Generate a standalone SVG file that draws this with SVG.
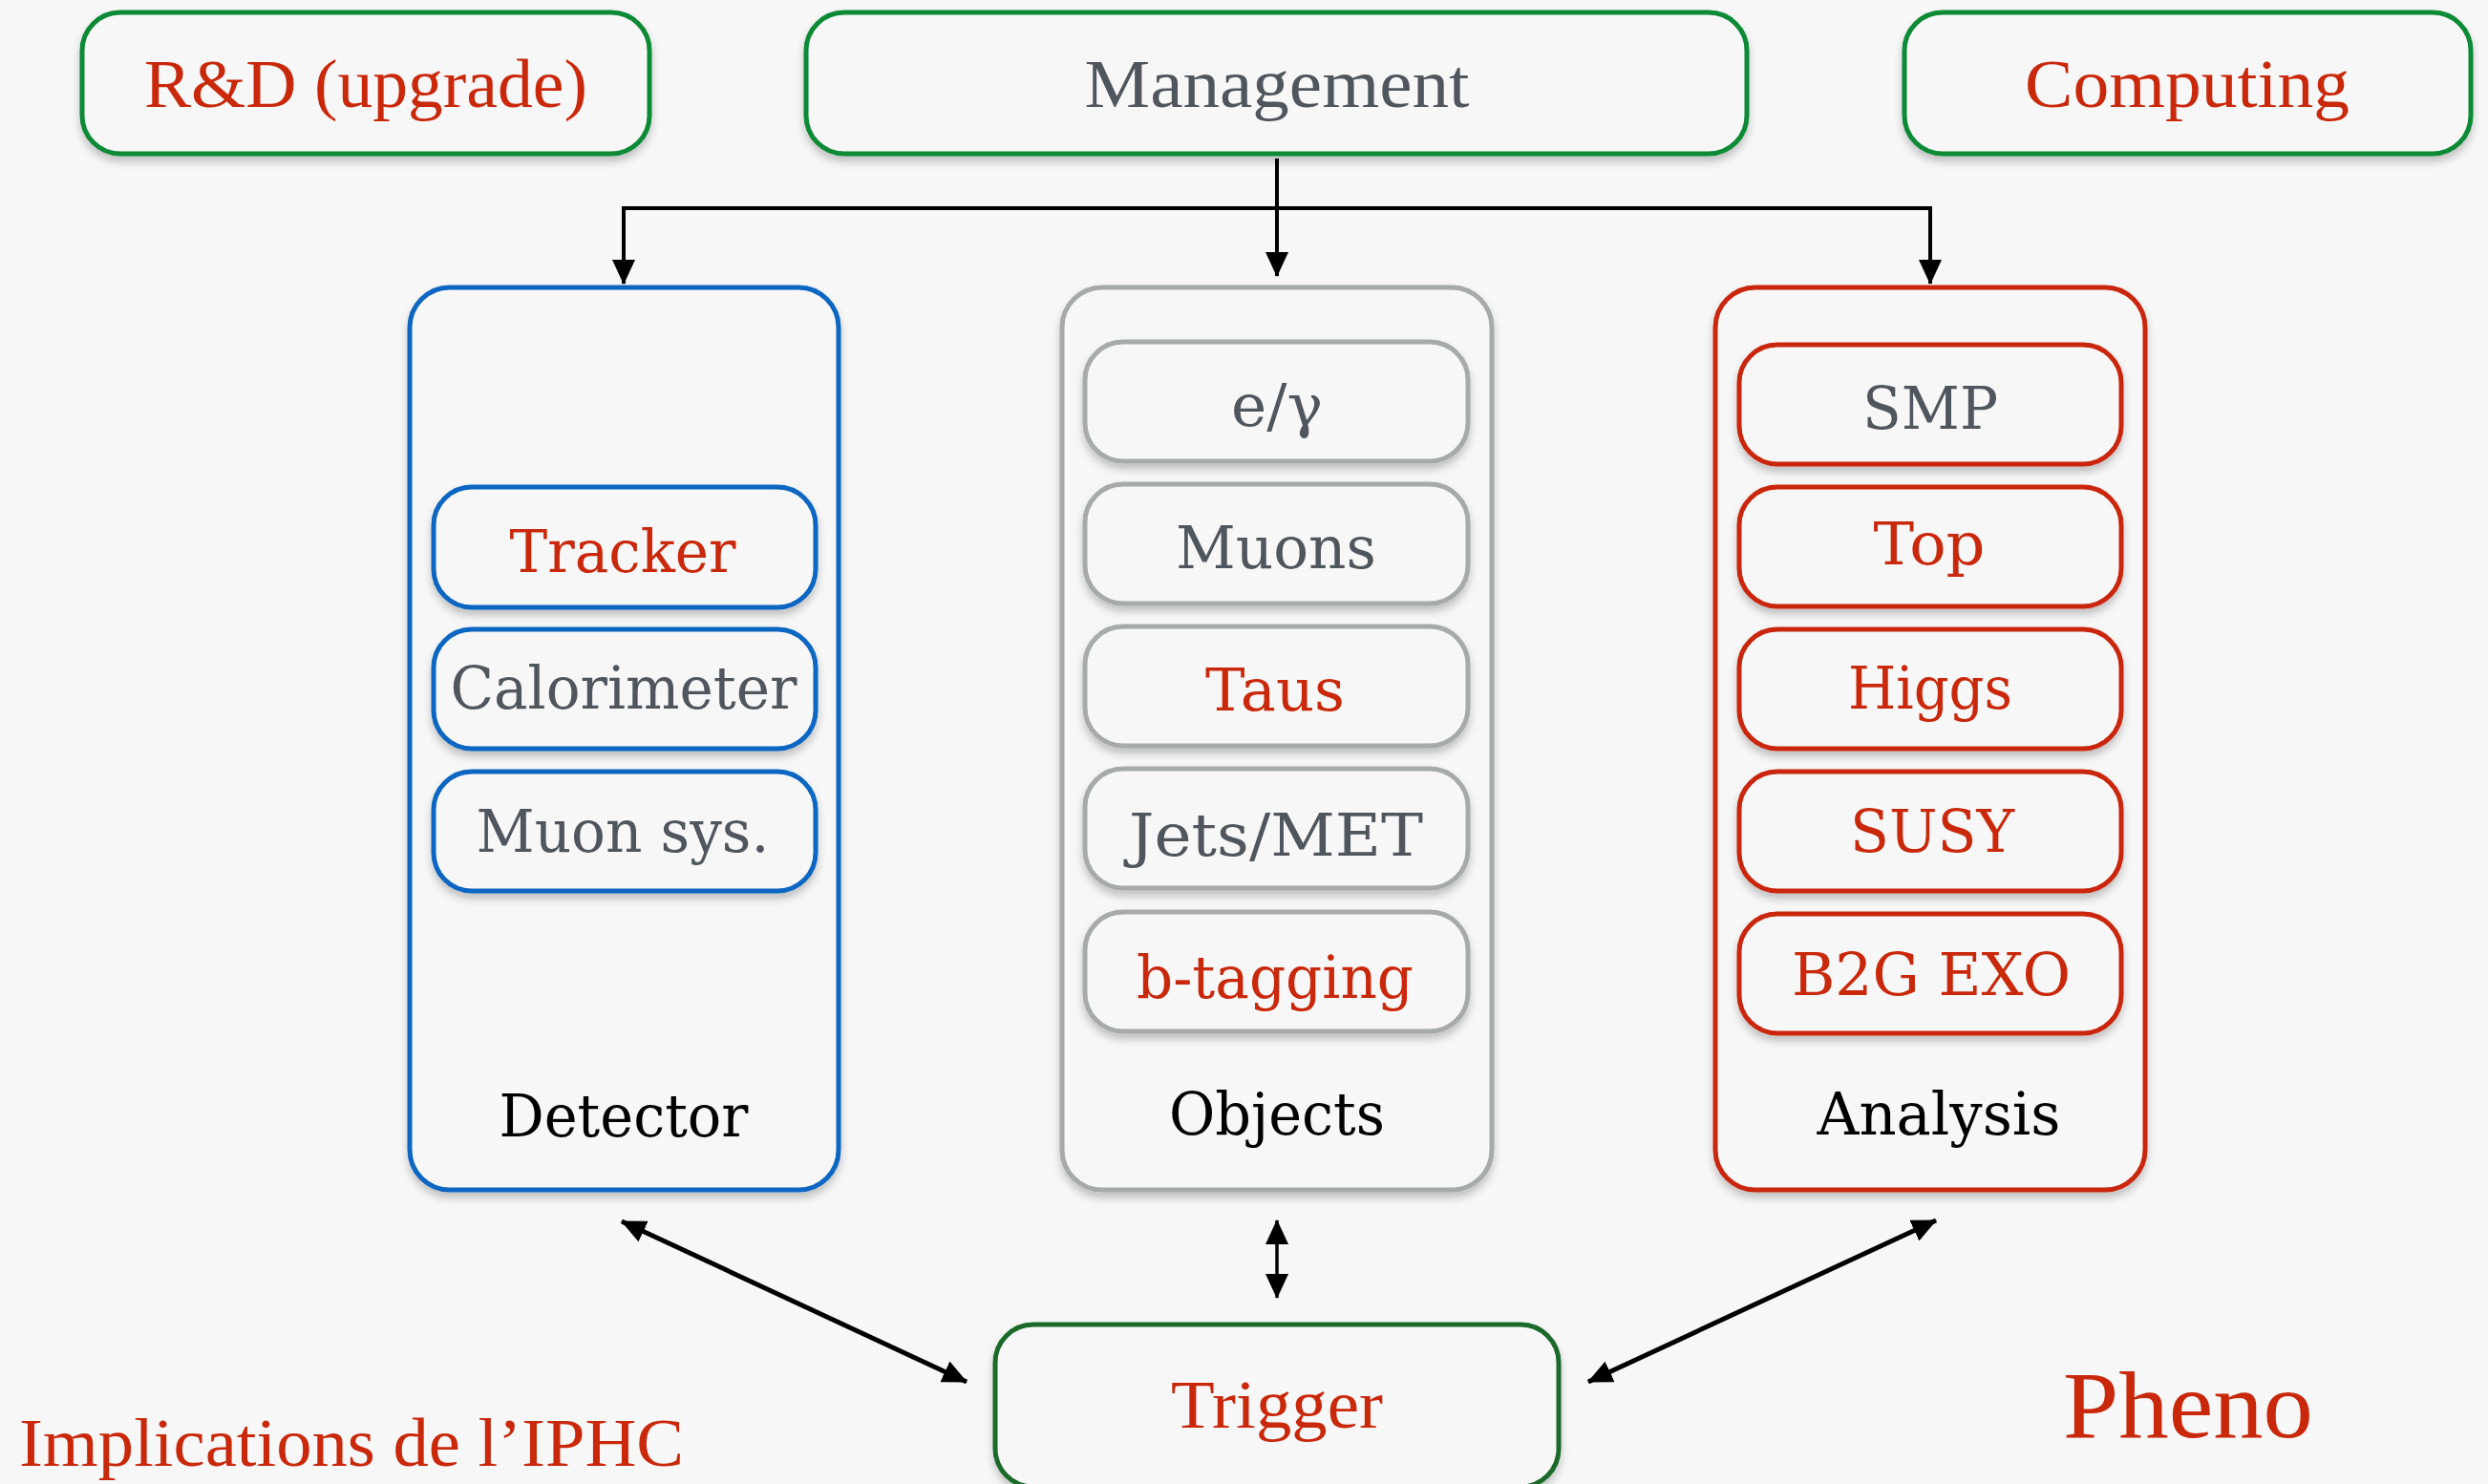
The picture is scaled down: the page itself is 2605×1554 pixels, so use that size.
<svg xmlns="http://www.w3.org/2000/svg" width="2605" height="1554" viewBox="0 0 2605 1554">
<defs>
<filter id="sh" x="-10%" y="-10%" width="120%" height="130%">
<feDropShadow dx="0" dy="6" stdDeviation="4" flood-color="#000" flood-opacity="0.22"/>
</filter>
<marker id="ah" viewBox="0 0 26 24" markerWidth="26" markerHeight="24" refX="25" refY="12" orient="auto-start-reverse" markerUnits="userSpaceOnUse">
<path d="M0,0 L26,12 L0,24 z" fill="#000"/>
</marker>
</defs>
<style>
.bg{fill:#f7f7f7}
.box{fill:#f7f7f7;filter:url(#sh)}
.green{stroke:#0b8a35;stroke-width:5}
.dgreen{stroke:#1d6a2c;stroke-width:5}
.blue{stroke:#0a66c2;stroke-width:5}
.grey{stroke:#a6aaa8;stroke-width:5}
.red{stroke:#c9280b;stroke-width:5}
.cond{font-family:"Liberation Serif",serif;font-size:72px;text-anchor:middle}
.geo{font-family:"DejaVu Serif","Liberation Serif",serif;font-size:62px;text-anchor:middle}
.tr{fill:#c9280b}
.tg{fill:#50565d}
.tb{fill:#000}
.conn{stroke:#000;stroke-width:4;fill:none}
</style>
<rect class="bg" x="0" y="0" width="2605" height="1554"/>

<g id="connectors">
<path class="conn" d="M1337,166 L1337,289" marker-end="url(#ah)"/>
<path class="conn" d="M653,297 L653,218 L2021,218 L2021,297" marker-start="url(#ah)" marker-end="url(#ah)"/>
<path class="conn" style="stroke-width:5" d="M651,1279 L1012,1447" marker-start="url(#ah)" marker-end="url(#ah)"/>
<path class="conn" style="stroke-width:3.5" d="M1337,1278 L1337,1359" marker-start="url(#ah)" marker-end="url(#ah)"/>
<path class="conn" style="stroke-width:5" d="M1663,1447 L2027,1278" marker-start="url(#ah)" marker-end="url(#ah)"/>
</g>

<g id="rnd">
<rect class="box green" x="86" y="13" width="594" height="148" rx="40"/>
<text class="cond tr" x="383" y="112" textLength="464" lengthAdjust="spacingAndGlyphs">R&amp;D (upgrade)</text>
</g>
<g id="management">
<rect class="box green" x="844" y="13" width="985" height="148" rx="40"/>
<text class="cond tg" x="1337" y="112" textLength="403" lengthAdjust="spacingAndGlyphs">Management</text>
</g>
<g id="computing">
<rect class="box green" x="1994" y="13" width="593" height="148" rx="40"/>
<text class="cond tr" x="2290" y="112" textLength="340" lengthAdjust="spacingAndGlyphs">Computing</text>
</g>

<g id="detector">
<rect class="box blue" x="429" y="301" width="449" height="945" rx="42"/>
<text class="geo tb" x="653" y="1190" textLength="261" lengthAdjust="spacingAndGlyphs">Detector</text>
</g>
<g id="tracker">
<rect class="box blue" x="454" y="510" width="400" height="126" rx="40"/>
<text class="geo tr" x="652" y="599" textLength="237" lengthAdjust="spacingAndGlyphs">Tracker</text>
</g>
<g id="calorimeter">
<rect class="box blue" x="454" y="659" width="400" height="125" rx="40"/>
<text class="geo tg" x="653" y="742" textLength="363" lengthAdjust="spacingAndGlyphs">Calorimeter</text>
</g>
<g id="muonsys">
<rect class="box blue" x="454" y="808" width="400" height="125" rx="40"/>
<text class="geo tg" x="652" y="892" textLength="307" lengthAdjust="spacingAndGlyphs">Muon sys.</text>
</g>

<g id="objects">
<rect class="box grey" x="1112" y="301" width="450" height="945" rx="42"/>
<text class="geo tb" x="1337" y="1188" textLength="226" lengthAdjust="spacingAndGlyphs">Objects</text>
</g>
<g id="egamma">
<rect class="box grey" x="1136" y="358" width="401" height="125" rx="40"/>
<text class="geo tg" x="1337" y="446" textLength="96" lengthAdjust="spacingAndGlyphs">e/γ</text>
</g>
<g id="muons">
<rect class="box grey" x="1136" y="507" width="401" height="125" rx="40"/>
<text class="geo tg" x="1336" y="595" textLength="210" lengthAdjust="spacingAndGlyphs">Muons</text>
</g>
<g id="taus">
<rect class="box grey" x="1136" y="656" width="401" height="125" rx="40"/>
<text class="geo tr" x="1335" y="744" textLength="146" lengthAdjust="spacingAndGlyphs">Taus</text>
</g>
<g id="jetsmet">
<rect class="box grey" x="1136" y="805" width="401" height="125" rx="40"/>
<text class="geo tg" x="1336" y="896" textLength="308" lengthAdjust="spacingAndGlyphs">Jets/MET</text>
</g>
<g id="btagging">
<rect class="box grey" x="1136" y="955" width="401" height="125" rx="40"/>
<text class="geo tr" x="1335" y="1045" textLength="290" lengthAdjust="spacingAndGlyphs">b-tagging</text>
</g>

<g id="analysis">
<rect class="box red" x="1796" y="301" width="450" height="945" rx="42"/>
<text class="geo tb" x="2030" y="1188" textLength="255" lengthAdjust="spacingAndGlyphs">Analysis</text>
</g>
<g id="smp">
<rect class="box red" x="1821" y="361" width="400" height="125" rx="40"/>
<text class="geo tg" x="2021" y="449" textLength="142" lengthAdjust="spacingAndGlyphs">SMP</text>
</g>
<g id="top">
<rect class="box red" x="1821" y="510" width="400" height="125" rx="40"/>
<text class="geo tr" x="2020" y="591" textLength="117" lengthAdjust="spacingAndGlyphs">Top</text>
</g>
<g id="higgs">
<rect class="box red" x="1821" y="659" width="400" height="125" rx="40"/>
<text class="geo tr" x="2021" y="742" textLength="172" lengthAdjust="spacingAndGlyphs">Higgs</text>
</g>
<g id="susy">
<rect class="box red" x="1821" y="808" width="400" height="125" rx="40"/>
<text class="geo tr" x="2023" y="892" textLength="172" lengthAdjust="spacingAndGlyphs">SUSY</text>
</g>
<g id="b2gexo">
<rect class="box red" x="1821" y="957" width="400" height="125" rx="40"/>
<text class="geo tr" x="2022" y="1042" textLength="292" lengthAdjust="spacingAndGlyphs">B2G EXO</text>
</g>

<g id="trigger">
<rect class="box dgreen" x="1042" y="1387" width="590" height="170" rx="40"/>
<text class="cond tr" x="1337" y="1495" textLength="222" lengthAdjust="spacingAndGlyphs">Trigger</text>
</g>

<g id="labels">
<text class="cond tr" x="20" y="1535" style="text-anchor:start" textLength="696" lengthAdjust="spacingAndGlyphs">Implications de l’IPHC</text>
<text class="cond tr" x="2160" y="1505" style="text-anchor:start;font-size:100px" textLength="262" lengthAdjust="spacingAndGlyphs">Pheno</text>
</g>
</svg>
